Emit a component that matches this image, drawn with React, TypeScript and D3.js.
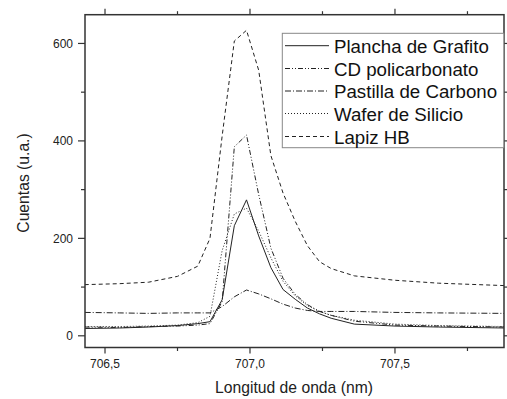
import React from "react";
import * as d3 from "d3";

const wavelengths = [706.43, 706.55, 706.65, 706.75, 706.82, 706.862, 706.904, 706.946, 706.988, 707.03, 707.072, 707.114, 707.156, 707.198, 707.24, 707.28, 707.36, 707.5, 707.65, 707.88];
const planchaGrafito = [15, 16, 18, 21, 25, 29, 74, 226, 279, 205, 140, 95, 75, 57, 45, 36, 24, 20, 18, 16];
const cdPolicarbonato = [18, 17, 19, 20, 22, 25, 70, 388, 412, 290, 180, 118, 85, 64, 50, 42, 30, 22, 20, 18];
const pastillaCarbono = [48, 47, 46, 47, 47, 47, 60, 80, 94, 86, 76, 65, 57, 52, 50, 50, 50, 48, 47, 46];
const waferSilicio = [19, 19, 20, 22, 27, 40, 175, 250, 262, 215, 160, 112, 82, 62, 50, 42, 32, 24, 21, 19];
const lapizHB = [105, 107, 110, 122, 143, 200, 410, 605, 627, 545, 370, 293, 235, 185, 152, 138, 123, 114, 108, 103];

const seriesNames = ["Plancha de Grafito", "CD policarbonato", "Pastilla de Carbono", "Wafer de Silicio", "Lapiz HB"];
const seriesValues = [planchaGrafito, cdPolicarbonato, pastillaCarbono, waferSilicio, lapizHB];
const dashes = ["", "5,2,1,2,1,2", "6,2,1,2", "1,2", "4,3"];

const xMajor = [706.5, 707.0, 707.5];
const xMinor = [706.75, 707.25, 707.75];
const yMajor = [0, 200, 400, 600];
const yMinor = [100, 300, 500];

export default function App() {
  const W = 507, H = 399;
  const L = 85, R = 504, T = 14.7, B = 347.5;
  const x = d3.scaleLinear().domain([706.431, 707.876]).range([L, R]);
  const y = d3.scaleLinear().domain([-24, 659]).range([B, T]);
  const line = d3.line<number>().x((_, i) => x(wavelengths[i])).y((v) => y(v));
  const fmt = (v: number) => v.toFixed(1).replace(".", ",");
  const axisColor = "#333";
  const font = "Arial, 'Liberation Sans', sans-serif";
  const legendY = [45.7, 68.5, 91, 113.5, 136.5];
  return (
    <svg width={W} height={H} style={{ position: "absolute", left: 0, top: 0, background: "#fff" }} fontFamily={font}>
      <rect x={0} y={0} width={W} height={H} fill="#fff" />
      <defs>
        <clipPath id="plot">
          <rect x={L} y={T} width={R - L} height={B - T} />
        </clipPath>
      </defs>
      <g clipPath="url(#plot)">
        {seriesValues.map((vals, i) => (
          <path key={i} d={line(vals) || ""} fill="none" stroke="#222" strokeWidth={1} strokeDasharray={dashes[i]} />
        ))}
      </g>
      <rect x={L} y={T} width={R - L} height={B - T} fill="none" stroke={axisColor} strokeWidth={1.5} />
      {xMajor.map((t) => (
        <g key={"xm" + t}>
          <line x1={x(t)} x2={x(t)} y1={B} y2={B + 6} stroke={axisColor} strokeWidth={1.2} />
          <line x1={x(t)} x2={x(t)} y1={T} y2={T - 6} stroke={axisColor} strokeWidth={1.2} />
          <text x={x(t)} y={368} fontSize={12} textAnchor="middle" fill="#222">{fmt(t)}</text>
        </g>
      ))}
      {xMinor.map((t) => (
        <g key={"xn" + t}>
          <line x1={x(t)} x2={x(t)} y1={B} y2={B + 3.5} stroke={axisColor} strokeWidth={1.2} />
          <line x1={x(t)} x2={x(t)} y1={T} y2={T - 3.5} stroke={axisColor} strokeWidth={1.2} />
        </g>
      ))}
      {yMajor.map((t) => (
        <g key={"ym" + t}>
          <line x1={L} x2={L - 7} y1={y(t)} y2={y(t)} stroke={axisColor} strokeWidth={1.2} />
          <line x1={R} x2={R + 6} y1={y(t)} y2={y(t)} stroke={axisColor} strokeWidth={1.2} />
          <text x={73} y={y(t) + 4.2} fontSize={12} textAnchor="end" fill="#222">{t}</text>
        </g>
      ))}
      {yMinor.map((t) => (
        <g key={"yn" + t}>
          <line x1={L} x2={L - 4} y1={y(t)} y2={y(t)} stroke={axisColor} strokeWidth={1.2} />
          <line x1={R} x2={R + 4} y1={y(t)} y2={y(t)} stroke={axisColor} strokeWidth={1.2} />
        </g>
      ))}
      <text x={294} y={393} fontSize={15.7} textAnchor="middle" fill="#222">Longitud de onda (nm)</text>
      <text transform="translate(28.5,183) rotate(-90)" fontSize={15.7} textAnchor="middle" fill="#222">Cuentas (u.a.)</text>
      <rect x={282.3} y={33.3} width={221.5} height={114.4} fill="#fff" stroke="#888" strokeWidth={1} />
      {seriesNames.map((name, i) => (
        <g key={name}>
          <line x1={285} x2={329} y1={legendY[i]} y2={legendY[i]} stroke="#222" strokeWidth={1} strokeDasharray={dashes[i]} />
          <text x={334} y={legendY[i] + 7} fontSize={18.7} fill="#111">{name}</text>
        </g>
      ))}
    </svg>
  );
}
